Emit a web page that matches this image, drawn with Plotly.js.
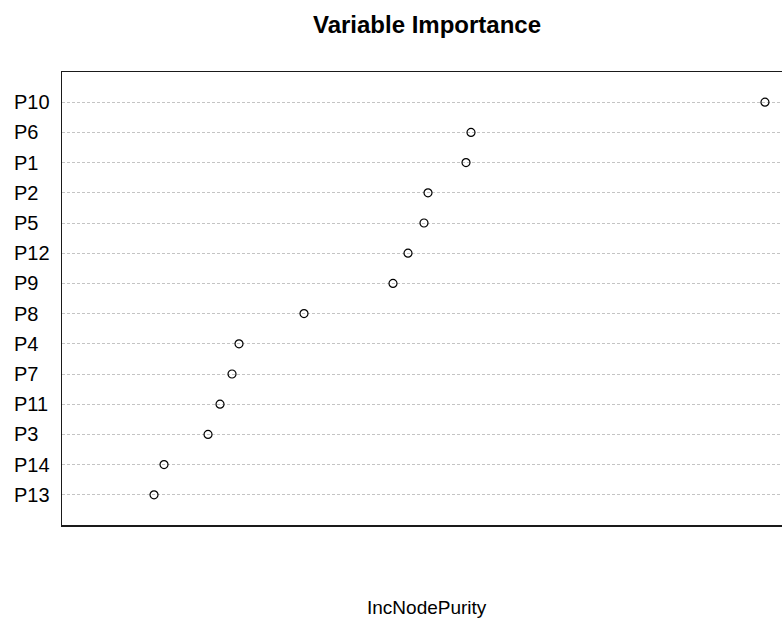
<!DOCTYPE html>
<html>
<head>
<meta charset="utf-8">
<script src="https://cdn.plot.ly/plotly-3.0.1.min.js"></script>
<style>
html, body { margin: 0; padding: 0; overflow: hidden; background: #fff; }
#chart { width: 792px; height: 618px; }
</style>
</head>
<body>
<div id="chart"></div>
<script>
// Variables, ordered top to bottom as in the reference dot chart
const variables = ["P10", "P6", "P1", "P2", "P5", "P12", "P9", "P8", "P4", "P7", "P11", "P3", "P14", "P13"];
// IncNodePurity values (estimated, relative scale)
const incNodePurity = [67.6, 38.2, 37.7, 33.9, 33.5, 31.9, 30.4, 21.5, 15.0, 14.3, 13.1, 11.9, 7.5, 6.5];

const titleText = "Variable Importance";
const xLabel = "IncNodePurity";

const W = 792, H = 618;
const mL = 62, mR = 0, mT = 72, mB = 93;
const plotW = W - mL - mR, plotH = H - mT - mB;

// R varImpPlot: xlim = c(0, max) with 4% expansion
const xmax = Math.max(...incNodePurity);
const pad = xmax * 0.04;

const labelAnnotations = variables.map(v => ({
  text: v, xref: "paper", yref: "y", x: (12 - mL) / plotW, y: v,
  xanchor: "left", yanchor: "middle", showarrow: false,
  font: { family: "Liberation Sans, Arial, sans-serif", size: 20, color: "#000" }
}));

const data = [{
  type: "scatter", mode: "markers",
  x: incNodePurity, y: variables,
  marker: { symbol: "circle-open", size: 8, color: "#000", line: { width: 1.2, color: "#000" } },
  hoverinfo: "x+y", showlegend: false, cliponaxis: false
}];

const layout = {
  width: W, height: H,
  margin: { l: mL, r: mR, t: mT, b: mB, pad: 0 },
  paper_bgcolor: "#fff", plot_bgcolor: "#fff",
  title: {
    text: "<b>" + titleText + "</b>",
    x: 0.5, xref: "paper", xanchor: "center",
    y: 1 - 25 / H, yref: "container", yanchor: "middle",
    font: { family: "Liberation Sans, Arial, sans-serif", size: 24, color: "#000" }
  },
  xaxis: {
    range: [-pad, xmax + pad],
    showgrid: false, zeroline: false, showticklabels: false, ticks: "",
    showline: true, mirror: true, linecolor: "#1a1a1a", linewidth: 1.5
  },
  yaxis: {
    type: "category", categoryorder: "array", categoryarray: variables,
    range: [variables.length, -1],
    showgrid: true, gridcolor: "#c4c4c4", gridwidth: 1, griddash: "3px,2px",
    zeroline: false, showticklabels: false, ticks: "",
    showline: true, mirror: true, linecolor: "#1a1a1a", linewidth: 1.5
  },
  annotations: labelAnnotations.concat([{
    text: xLabel, xref: "paper", yref: "paper",
    x: 0.5, y: -(607 - (mT + plotH)) / plotH,
    xanchor: "center", yanchor: "middle", showarrow: false,
    font: { family: "Liberation Sans, Arial, sans-serif", size: 19, color: "#000" }
  }])
};

Plotly.newPlot("chart", data, layout, { displayModeBar: false, staticPlot: true });
</script>
</body>
</html>
